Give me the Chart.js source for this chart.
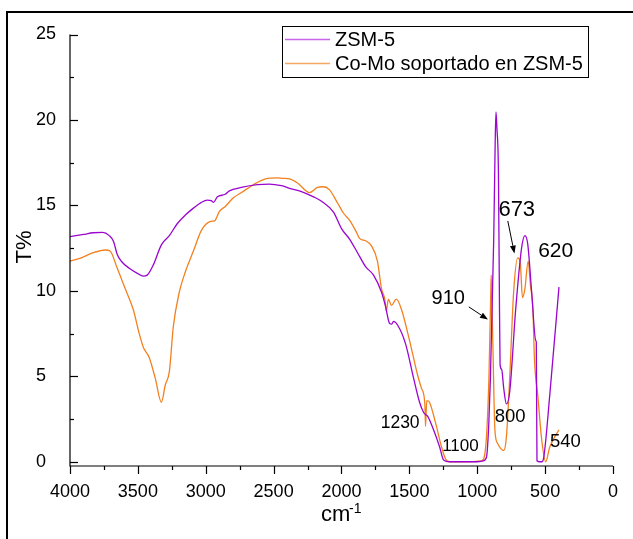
<!DOCTYPE html>
<html>
<head>
<meta charset="utf-8">
<script src="https://cdn.jsdelivr.net/npm/chart.js@4.4.1/dist/chart.umd.min.js"></script>
<style>
  html, body { margin: 0; padding: 0; background: #fff; }
  #wrap { width: 633px; height: 539px; }
</style>
</head>
<body>
<div id="wrap"><canvas id="ftir" width="633" height="539"></canvas></div>
<script>
// wavenumber (cm-1) and transmittance (T%)
const zsmX = [4000, 3900, 3829, 3760, 3711, 3680, 3652, 3622, 3563, 3504, 3460, 3431, 3386, 3327, 3268, 3209, 3150,
  3091, 3032, 2988, 2960, 2944, 2914, 2856, 2826, 2737, 2620, 2531, 2442, 2383, 2295, 2206, 2147, 2059, 2000,
  1941, 1882, 1823, 1764, 1705, 1676, 1646, 1630, 1617, 1587, 1528, 1469, 1425, 1395, 1380, 1366, 1322, 1277,
  1248, 1204, 1100, 1000, 956, 932, 915, 903, 879, 868, 862, 855, 844, 838, 832, 820, 805, 785, 761, 717, 673,
  649, 628, 599, 569, 565, 560, 540, 525, 510, 466, 398];
const zsmY = [13.17, 13.3, 13.4, 13.42, 13.23, 12.9, 12.13, 11.73, 11.32, 11.02, 10.86, 10.92, 11.52, 12.69, 13.23,
  13.94, 14.44, 14.84, 15.18, 15.31, 15.28, 15.18, 15.5, 15.65, 15.85, 16.05, 16.21, 16.25, 16.15, 16.0, 15.81,
  15.5, 15.24, 14.6, 13.64, 13.03, 12.23, 11.42, 10.92, 9.92, 9.11, 8.1, 8.05, 8.21, 8.0, 6.9, 4.89, 3.48, 2.88,
  2.75, 2.67, 1.87, 0.86, 0.1, 0.0, 0.0, 0.0, 0.05, 0.26, 2.2, 4.9, 12.9, 18.6, 20.47, 19.5, 16.95, 11.0, 5.7,
  5.4, 4.3, 3.38, 4.08, 8.9, 12.53, 13.23, 12.73, 9.92, 7.1, 7.0, 0.06, 0.0, 0.0, 0.26, 3.88, 10.22];

const comoX = [4000, 3917, 3829, 3740, 3705, 3652, 3593, 3534, 3490, 3460, 3416, 3372, 3327, 3298, 3268, 3239, 3195,
  3150, 3091, 3032, 2973, 2935, 2929, 2900, 2856, 2796, 2737, 2649, 2560, 2472, 2430, 2383, 2324, 2236, 2177,
  2133, 2088, 2029, 1985, 1941, 1897, 1867, 1823, 1779, 1735, 1705, 1681, 1670, 1655, 1632, 1596, 1558, 1499,
  1440, 1410, 1386, 1381, 1372, 1352, 1307, 1263, 1233, 1204, 1100, 967, 938, 914, 900, 897, 885, 870, 850,
  805, 785, 761, 732, 702, 684, 667, 649, 625, 608, 590, 578, 554, 525, 496, 466, 398];
const comoY = [11.73, 11.93, 12.23, 12.39, 12.33, 11.32, 10.12, 8.91, 7.5, 6.7, 6.09, 4.89, 3.48, 4.49, 5.29, 7.9,
  9.92, 11.12, 12.33, 13.54, 14.04, 14.1, 14.14, 14.64, 14.94, 15.45, 15.75, 16.21, 16.55, 16.61, 16.58, 16.55,
  16.31, 15.75, 16.05, 16.09, 15.91, 15.14, 14.54, 14.14, 13.54, 13.07, 12.93, 12.63, 11.73, 10.12, 9.51, 8.81,
  9.51, 9.15, 9.51, 8.91, 7.1, 5.09, 4.28, 3.38, 2.07, 3.58, 3.48, 2.27, 0.86, 0.16, 0.0, 0.0, 0.05, 0.86, 4.89,
  10.0, 10.92, 6.9, 1.87, 1.07, 0.66, 1.47, 4.89, 9.92, 11.93, 11.73, 9.61, 10.12, 11.73, 10.32, 8.91, 5.89, 3.88,
  1.27, 0.0, 0.86, 1.87];

const xTicks = [4000, 3500, 3000, 2500, 2000, 1500, 1000, 500, 0];
const yTicks = [0, 5, 10, 15, 20, 25];

// peak labels, anchored in data units
const peakLabels = ['910', '673', '620', '1230', '1100', '800', '540'];
const peakX = [1214, 709, 422, 1568, 1124, 758, 351];
const peakY = [9.55, 14.76, 12.31, 2.27, 0.89, 2.63, 1.18];
const peakFont = [20, 22, 21, 17.5, 17, 18.5, 18.5];

// arrows: [x1, y1, x2, y2] in data units
const arrows = [[1062, 9.06, 921, 8.32], [775, 14.09, 726, 12.18]];

const PURPLE = '#9a05cf';
const ORANGE = '#f3801f';
const FONT = '"Liberation Sans", Arial, Helvetica, sans-serif';

const toPoints = (xs, ys) => xs.map((x, i) => ({ x, y: ys[i] }));

const decor = {
    id: 'decor',
    afterDraw(chart) {
        const { ctx, chartArea: a, scales: { x, y } } = chart;
        ctx.save();

        // outer frame
        ctx.strokeStyle = '#000';
        ctx.lineWidth = 2;
        ctx.strokeRect(7, 12, 700, 600);

        // axis lines
        ctx.lineWidth = 1.2;
        ctx.beginPath();
        ctx.moveTo(a.left, y.getPixelForValue(25));
        ctx.lineTo(a.left, a.bottom);
        ctx.lineTo(a.right, a.bottom);
        ctx.stroke();

        // x ticks (outside)
        for (let v = 0; v <= 4000; v += 250) {
            const px = Math.round(x.getPixelForValue(v)) + 0.5;
            ctx.beginPath();
            ctx.moveTo(px, a.bottom);
            ctx.lineTo(px, a.bottom + (v % 500 === 0 ? 8 : 4));
            ctx.stroke();
        }
        // y ticks (inside)
        for (let v = 0; v <= 25; v += 2.5) {
            const py = Math.round(y.getPixelForValue(v)) + 0.5;
            ctx.beginPath();
            ctx.moveTo(a.left, py);
            ctx.lineTo(a.left + (v % 5 === 0 ? 8 : 4), py);
            ctx.stroke();
        }

        // axis titles
        ctx.fillStyle = '#000';
        ctx.textBaseline = 'alphabetic';
        ctx.textAlign = 'left';
        ctx.font = '22px ' + FONT;
        ctx.fillText('cm', 321, 521);
        ctx.font = '14px ' + FONT;
        ctx.fillText('-1', 349, 513);

        ctx.save();
        ctx.translate(25, 247);
        ctx.rotate(-Math.PI / 2);
        ctx.textAlign = 'center';
        ctx.textBaseline = 'middle';
        ctx.font = '22px ' + FONT;
        ctx.fillText('T%', 0, 0);
        ctx.restore();

        // legend
        ctx.lineWidth = 1;
        ctx.strokeRect(282.5, 26.5, 306, 51);
        ctx.lineWidth = 1.5;
        ctx.strokeStyle = '#c865ea';
        ctx.beginPath(); ctx.moveTo(285, 39.5); ctx.lineTo(330, 39.5); ctx.stroke();
        ctx.strokeStyle = '#f8a862';
        ctx.beginPath(); ctx.moveTo(285, 63.5); ctx.lineTo(330, 63.5); ctx.stroke();
        ctx.font = '20px ' + FONT;
        ctx.textBaseline = 'middle';
        ctx.fillText('ZSM-5', 335, 40.5);
        ctx.fillText('Co-Mo soportado en ZSM-5', 335, 64);

        // peak labels
        ctx.textAlign = 'center';
        peakLabels.forEach((t, i) => {
            ctx.font = peakFont[i] + 'px ' + FONT;
            ctx.fillText(t, x.getPixelForValue(peakX[i]), y.getPixelForValue(peakY[i]));
        });

        // arrows
        ctx.strokeStyle = '#000';
        ctx.lineWidth = 1;
        arrows.forEach(([x1, y1, x2, y2]) => {
            const ax = x.getPixelForValue(x1), ay = y.getPixelForValue(y1);
            const bx = x.getPixelForValue(x2), by = y.getPixelForValue(y2);
            const ang = Math.atan2(by - ay, bx - ax);
            const hl = 8, hw = 3;
            ctx.beginPath();
            ctx.moveTo(ax, ay);
            ctx.lineTo(bx - Math.cos(ang) * hl, by - Math.sin(ang) * hl);
            ctx.stroke();
            ctx.beginPath();
            ctx.moveTo(bx, by);
            ctx.lineTo(bx - Math.cos(ang) * hl - Math.sin(ang) * hw, by - Math.sin(ang) * hl + Math.cos(ang) * hw);
            ctx.lineTo(bx - Math.cos(ang) * hl + Math.sin(ang) * hw, by - Math.sin(ang) * hl - Math.cos(ang) * hw);
            ctx.closePath();
            ctx.fillStyle = '#000';
            ctx.fill();
        });

        ctx.restore();
    }
};

new Chart(document.getElementById('ftir'), {
    type: 'scatter',
    data: {
        datasets: [{
            label: 'ZSM-5',
            data: toPoints(zsmX, zsmY),
            borderColor: PURPLE,
            showLine: true,
            borderWidth: 1.3,
            pointRadius: 0,
            cubicInterpolationMode: 'monotone',
        }, {
            label: 'Co-Mo soportado en ZSM-5',
            data: toPoints(comoX, comoY),
            borderColor: ORANGE,
            showLine: true,
            borderWidth: 1.3,
            pointRadius: 0,
            cubicInterpolationMode: 'monotone',
        }]
    },
    options: {
        responsive: false,
        animation: false,
        devicePixelRatio: 1,
        layout: { padding: { left: 36, top: 34.5, right: 16, bottom: 0 } },
        plugins: { legend: { display: false }, tooltip: { enabled: false } },
        scales: {
            x: {
                type: 'linear',
                reverse: true,
                min: 0,
                max: 4000,
                afterBuildTicks: s => { s.ticks = xTicks.map(v => ({ value: v })); },
                afterFit: s => { s.height = 73; },
                grid: { display: false, drawTicks: false },
                border: { display: false },
                ticks: { color: '#000', font: { family: FONT, size: 18 }, padding: 15, maxRotation: 0, callback: v => String(v) }
            },
            y: {
                min: -0.25,
                max: 25,
                afterBuildTicks: s => { s.ticks = yTicks.map(v => ({ value: v })); },
                afterFit: s => { s.width = 34; },
                grid: { display: false, drawTicks: false },
                border: { display: false },
                ticks: { color: '#000', font: { family: FONT, size: 18 }, crossAlign: 'far', padding: 0, callback: v => String(v) }
            }
        }
    },
    plugins: [decor]
});
</script>
</body>
</html>
